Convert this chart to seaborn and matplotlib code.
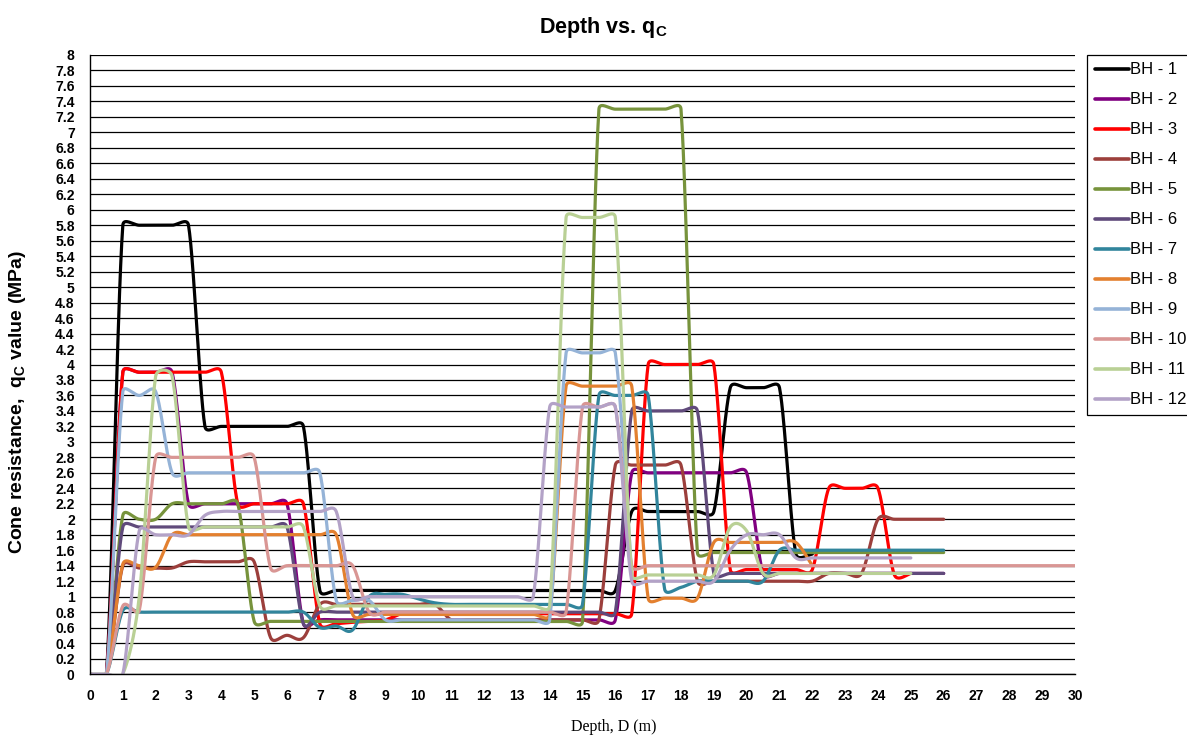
import numpy as np
import pandas as pd
import matplotlib
matplotlib.use("Agg")
import matplotlib.pyplot as plt
import seaborn as sns

# ---------------- data (q_c in MPa, read every 0.5 m of depth from 0 m) ----------------
STEP = 0.5
NAMES = ["BH - 1", "BH - 2", "BH - 3", "BH - 4", "BH - 5", "BH - 6",
         "BH - 7", "BH - 8", "BH - 9", "BH - 10", "BH - 11", "BH - 12"]

BH1 = [0, 0, 5.8, 5.8, 5.8, 5.8, 5.8, 3.2, 3.2, 3.2, 3.2, 3.2, 3.2, 3.2,
       1.08, 1.08, 1.08, 1.08, 1.08, 1.08, 1.08, 1.08, 1.08, 1.08,
       1.08, 1.08, 1.08, 1.08, 1.08, 1.08, 1.08, 1.08, 1.08,
       2.1, 2.1, 2.1, 2.1, 2.1, 2.1, 3.7, 3.7, 3.7, 3.7, 1.55, 1.55]
BH2 = [0, 0, 3.9, 3.9, 3.9, 3.9, 2.2, 2.2, 2.2, 2.2, 2.2, 2.2, 2.2, 0.65,
       0.7, 0.7, 0.7, 0.7, 0.7, 0.7, 0.7, 0.7, 0.7, 0.7,
       0.7, 0.7, 0.7, 0.7, 0.7, 0.7, 0.7, 0.7, 0.7,
       2.6, 2.6, 2.6, 2.6, 2.6, 2.6, 2.6, 2.6,
       1.3, 1.3, 1.3, 1.3, 1.3, 1.3, 1.3, 1.3, 1.3, 1.3, 1.3, 1.3]
BH3 = [0, 0, 3.9, 3.9, 3.9, 3.9, 3.9, 3.9, 3.9, 2.2, 2.2, 2.2, 2.2, 2.2,
       0.65, 0.65, 0.67, 0.68, 0.7,
       0.78, 0.78, 0.78, 0.78, 0.78, 0.78, 0.78, 0.78, 0.78, 0.78,
       0.78, 0.78, 0.78, 0.78, 0.78,
       4.0, 4.0, 4.0, 4.0, 4.0,
       1.35, 1.35, 1.35, 1.35, 1.35, 1.35,
       2.4, 2.4, 2.4, 2.4, 1.28, 1.3]
BH4 = [0, 0, 1.4, 1.37, 1.37, 1.37, 1.45, 1.45, 1.45, 1.45, 1.45,
       0.47, 0.5, 0.47,
       0.9, 0.9, 0.9, 0.9, 0.9, 0.9, 0.9, 0.9,
       0.7, 0.7, 0.7, 0.7, 0.7, 0.7, 0.7, 0.7, 0.7, 0.7,
       2.7, 2.7, 2.7, 2.7, 2.7,
       1.2, 1.2, 1.2, 1.2, 1.2, 1.2, 1.2, 1.2,
       1.3, 1.3, 1.3, 2.0, 2.0, 2.0, 2.0, 2.0]
BH5 = [0, 0, 2.05, 2.0, 2.0, 2.2, 2.2, 2.2, 2.2, 2.2,
       0.68, 0.68, 0.68, 0.68, 0.68, 0.68, 0.68, 0.68, 0.68, 0.68, 0.68,
       0.68, 0.68, 0.68, 0.68, 0.68, 0.68, 0.68, 0.68, 0.68, 0.68,
       7.3, 7.3, 7.3, 7.3, 7.3, 7.3,
       1.57, 1.57, 1.57, 1.57, 1.57, 1.57, 1.57, 1.57,
       1.57, 1.57, 1.57, 1.57, 1.57, 1.57, 1.57, 1.57]
BH6 = [0, 0, 1.9, 1.9, 1.9, 1.9, 1.9, 1.9, 1.9, 1.9, 1.9, 1.9, 1.9, 0.65,
       0.8, 0.8, 0.8, 0.8, 0.8, 0.8, 0.8, 0.8, 0.8, 0.8,
       0.8, 0.8, 0.8, 0.8, 0.8, 0.8, 0.8, 0.8, 0.8,
       3.4, 3.4, 3.4, 3.4, 3.4,
       1.3, 1.3, 1.3, 1.3, 1.3, 1.3, 1.3, 1.3, 1.3, 1.3, 1.3, 1.3, 1.3, 1.3, 1.3]
BH7 = [0, 0, 0.82, 0.8, 0.8, 0.8, 0.8, 0.8, 0.8, 0.8, 0.8, 0.8, 0.8, 0.8,
       0.6, 0.62, 0.57, 1.0, 1.03, 1.03, 0.97, 0.92,
       0.9, 0.9, 0.9, 0.9, 0.9, 0.9, 0.9, 0.9, 0.9,
       3.6, 3.6, 3.6, 3.6, 1.1, 1.12,
       1.2, 1.2, 1.2, 1.2, 1.2,
       1.6, 1.6, 1.6, 1.6, 1.6, 1.6, 1.6, 1.6, 1.6, 1.6, 1.6]
BH8 = [0, 0, 1.42, 1.4, 1.38,
       1.8, 1.8, 1.8, 1.8, 1.8, 1.8, 1.8, 1.8, 1.8, 1.8, 1.8,
       0.77, 0.77, 0.77, 0.77, 0.77, 0.77, 0.77, 0.77, 0.77, 0.77, 0.77, 0.77, 0.77,
       3.72, 3.72, 3.72, 3.72, 3.72,
       0.98, 0.98, 0.98, 0.98,
       1.7, 1.7, 1.7, 1.7, 1.7, 1.7, 1.4]
BH9 = [0, 0, 3.65, 3.6, 3.65,
       2.6, 2.6, 2.6, 2.6, 2.6, 2.6, 2.6, 2.6, 2.6, 2.6,
       0.95, 0.95, 0.95,
       0.7, 0.7, 0.7, 0.7, 0.7, 0.7, 0.7, 0.7, 0.7, 0.7, 0.7,
       4.15, 4.15, 4.15, 4.15, 1.28]
BH10 = [0, 0, 0.88, 0.82, 2.8, 2.8, 2.8, 2.8, 2.8, 2.8, 2.8, 1.37,
        1.4, 1.4, 1.4, 1.4, 1.4,
        0.8, 0.8, 0.8, 0.8, 0.8, 0.8, 0.8, 0.8, 0.8, 0.8, 0.8, 0.8, 0.8,
        3.45, 3.45, 3.45,
        1.4, 1.4, 1.4, 1.4, 1.4, 1.4, 1.4, 1.4, 1.4, 1.4, 1.4, 1.4, 1.4, 1.4,
        1.4, 1.4, 1.4, 1.4, 1.4, 1.4, 1.4, 1.4, 1.4, 1.4, 1.4, 1.4, 1.4, 1.4]
BH11 = [0, 0, 0, 1.0, 3.85, 3.85, 1.9, 1.9, 1.9, 1.9, 1.9, 1.9, 1.9, 1.9,
        0.88, 0.88, 0.88, 0.88, 0.88, 0.88, 0.88, 0.88, 0.88, 0.88,
        0.88, 0.88, 0.88, 0.88, 0.88,
        5.9, 5.9, 5.9, 5.9,
        1.28, 1.28, 1.28, 1.28, 1.28, 1.28, 1.9, 1.85,
        1.3, 1.3, 1.3, 1.3, 1.3, 1.3, 1.3, 1.3, 1.3, 1.3]
BH12 = [0, 0, 0, 1.85, 1.8, 1.8, 1.8, 2.05,
        2.1, 2.1, 2.1, 2.1, 2.1, 2.1, 2.1, 2.1,
        1.0, 1.0, 1.0, 1.0, 1.0, 1.0, 1.0, 1.0, 1.0, 1.0, 1.0, 1.0,
        3.45, 3.45, 3.45, 3.45, 3.45,
        1.2, 1.2, 1.2, 1.2, 1.2, 1.2,
        1.6, 1.8, 1.8, 1.8,
        1.5, 1.5, 1.5, 1.5, 1.5, 1.5, 1.5, 1.5]

VALUES = [BH1, BH2, BH3, BH4, BH5, BH6, BH7, BH8, BH9, BH10, BH11, BH12]
COLORS = ["#000000", "#800080", "#FF0000", "#9C3F3C", "#77933C", "#604A7B",
          "#31859C", "#E3802F", "#95B3D7", "#D99694", "#B9D095", "#B3A2C7"]

X_TICKS = list(range(0, 31))
Y_TICKS = [round(0.2 * i, 1) for i in range(41)]

# screen scale (px per data unit) used for the smoothing distances
PX_X = 985 / 30.0
PX_Y = 619 / 8.0


def smooth(xs, ys, n=30):
    """Excel-like smoothed line: Catmull-Rom Bezier (1/6 arms) with each control
    arm limited to half the on-screen length of its segment."""
    P = np.column_stack([xs, ys]).astype(float)
    S = np.array([PX_X, PX_Y])
    m = len(P)

    def plen(v):
        return float(np.hypot(*(v * S)))

    outx, outy = [], []
    for i in range(m - 1):
        p0 = P[i - 1] if i > 0 else P[i]
        p1, p2 = P[i], P[i + 1]
        p3 = P[i + 2] if i + 2 < m else P[i + 1]
        half = plen(p2 - p1) / 2.0
        v1 = (p2 - p0) / 6.0
        v2 = (p3 - p1) / 6.0
        l1, l2 = plen(v1), plen(v2)
        if l1 > half and l1 > 0:
            v1 = v1 * half / l1
        if l2 > half and l2 > 0:
            v2 = v2 * half / l2
        c1 = p1 + v1
        c2 = p2 - v2
        t = np.linspace(0, 1, n, endpoint=(i == m - 2))[:, None]
        b = ((1 - t) ** 3) * p1 + 3 * ((1 - t) ** 2) * t * c1 + 3 * (1 - t) * t ** 2 * c2 + t ** 3 * p2
        outx.extend(b[:, 0]); outy.extend(b[:, 1])
    return np.array(outx), np.array(outy)


frames = []
for name, vals in zip(NAMES, VALUES):
    depth = np.arange(len(vals)) * STEP
    sx, sy = smooth(depth, vals)
    frames.append(pd.DataFrame({"depth": sx, "qc": sy, "BH": name}))
df = pd.concat(frames, ignore_index=True)

# ---------------- style ----------------
sns.set_style("white")
plt.rcParams["font.family"] = ["Liberation Sans", "DejaVu Sans"]
plt.rcParams["mathtext.fontset"] = "custom"
plt.rcParams["mathtext.rm"] = "Liberation Sans:bold"
plt.rcParams["mathtext.it"] = "Liberation Sans:bold"
plt.rcParams["mathtext.bf"] = "Liberation Sans:bold"
for key in ["text.color", "axes.labelcolor", "xtick.color", "ytick.color"]:
    plt.rcParams[key] = "black"

fig = plt.figure(figsize=(11.87, 7.38), dpi=100)
ax = fig.add_axes([90 / 1187, 1 - 674 / 738, (1075 - 90) / 1187, (674 - 55) / 738])

sns.lineplot(data=df, x="depth", y="qc", hue="BH", hue_order=NAMES,
             palette=dict(zip(NAMES, COLORS)), estimator=None, sort=False,
             linewidth=2.3, ax=ax)

ax.set_xlim(0, 30)
ax.set_ylim(0, 8)
ax.set_xticks(X_TICKS)
ax.set_yticks(Y_TICKS)
ax.set_xticklabels([str(v) for v in X_TICKS], fontweight="bold", fontsize=10, color="black")
ax.set_yticklabels([("%g" % v) for v in Y_TICKS], fontweight="bold", fontsize=10, color="black")
ax.tick_params(axis="x", direction="out", length=4, width=1, pad=7, color="black")
ax.tick_params(axis="y", direction="out", length=4, width=1, pad=7, color="black")
ax.yaxis.grid(True, color="black", linewidth=0.9)
ax.xaxis.grid(False)
ax.set_axisbelow(True)
for s in ["top", "right"]:
    ax.spines[s].set_visible(False)
for s in ["left", "bottom"]:
    ax.spines[s].set_color("black")
    ax.spines[s].set_linewidth(1.0)

ax.set_xlabel("Depth, D (m)", fontfamily="Liberation Serif", fontsize=11.5, color="black")
ax.xaxis.set_label_coords((614 - 90) / 985, -(727 - 674) / 619)
ax.xaxis.label.set_va("center")
ax.set_ylabel("Cone resistance,  q$_\\mathrm{C}$ value (MPa)", fontweight="bold", fontsize=14,
              color="black")
ax.yaxis.set_label_coords((18 - 90) / 985, (674 - 402) / 619)
ax.yaxis.label.set_va("center")
fig.text(603 / 1187, 1 - 27 / 738, "Depth vs. q$_\\mathrm{C}$", ha="center", va="center",
         fontweight="bold", fontsize=15.5, color="black")

handles, labels = ax.get_legend_handles_labels()
if ax.get_legend() is not None:
    ax.get_legend().remove()
leg = fig.legend(handles, labels, loc="upper left", bbox_to_anchor=(1087 / 1187, 1 - 55 / 738),
                 fontsize=12, frameon=True, fancybox=False, shadow=False, framealpha=1,
                 edgecolor="black", borderpad=0.45, labelspacing=0.9, handlelength=2.05,
                 handletextpad=0.1, borderaxespad=0)
leg.get_frame().set_linewidth(0.9)
for txt in leg.get_texts():
    txt.set_color("black")
for h in leg.get_lines():
    h.set_linewidth(2.6)

fig.savefig("out.png", dpi=100)
